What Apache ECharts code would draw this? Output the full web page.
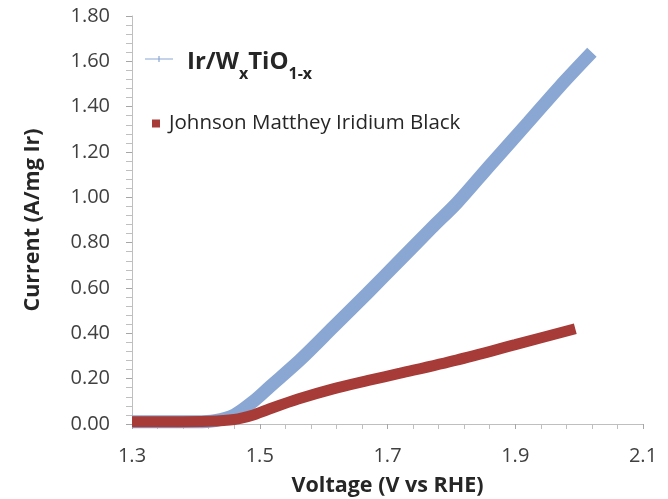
<!DOCTYPE html>
<html>
<head>
<meta charset="utf-8">
<script src="https://cdn.jsdelivr.net/npm/echarts@6/dist/echarts.min.js"></script>
<style>html,body{margin:0;padding:0;background:#fff}#c{width:668px;height:499px}</style>
</head>
<body>
<div id="c"></div>
<script>
// Ir/WxTiO1-x series (voltage V vs RHE, current A/mg Ir)
const blueV = [1.30, 1.35, 1.40, 1.43, 1.46, 1.49, 1.516, 1.563, 1.615, 1.668, 1.720, 1.771, 1.809, 1.86, 1.92, 1.97, 2.02];
const blueI = [0.01, 0.01, 0.01, 0.015, 0.04, 0.10, 0.165, 0.282, 0.427, 0.575, 0.724, 0.870, 0.976, 1.14, 1.33, 1.49, 1.64];
// Johnson Matthey Iridium Black series
const redV = [1.30, 1.36, 1.42, 1.46, 1.49, 1.511, 1.56, 1.615, 1.67, 1.720, 1.808, 1.90, 1.994];
const redI = [0.01, 0.01, 0.012, 0.02, 0.04, 0.062, 0.11, 0.155, 0.192, 0.224, 0.282, 0.35, 0.42];
const seriesNames = ['Ir/WxTiO1-x', 'Johnson Matthey Iridium Black'];
const xTicks = [1.3, 2.1, 0.2];   // min, max, interval
const yTicks = [0, 1.8, 0.2];

const FONT = 'Open Sans';
const BLUE = '#8AA7D3', RED = '#A63B37';
const chart = echarts.init(document.getElementById('c'), null, {renderer: 'canvas'});
const zip = (a, b) => a.map((v, i) => [v, b[i]]);
chart.setOption({
  animation: false,
  textStyle: {fontFamily: FONT},
  grid: {left: 132, right: 25, top: 16, bottom: 75, outerBoundsMode: 'none', containLabel: false},
  legend: [
    {
      left: 140, top: 45, itemWidth: 28, itemHeight: 10, itemGap: 0,
      data: [{name: seriesNames[0], icon: 'path://M0,4.5H28V5.5H0Z M13.4,2H14.6V8H13.4Z'}],
      formatter: () => '{b|Ir/W}{s|x}{b|TiO}{s|1-x}',
      textStyle: {
        padding: [0, 0, 0, 9],
        rich: {
          b: {fontFamily: FONT, fontSize: 24, fontWeight: 'bold', color: '#262626', verticalAlign: 'bottom', lineHeight: 30},
          s: {fontFamily: FONT, fontSize: 16, fontWeight: 'bold', color: '#262626', verticalAlign: 'bottom', lineHeight: 18, padding: [0, 0, -8, 0]}
        }
      }
    },
    {
      left: 147, top: 108, itemWidth: 8, itemHeight: 8,
      data: [{name: seriesNames[1], icon: 'rect'}],
      textStyle: {fontFamily: FONT, fontSize: 20.5, color: '#262626', padding: [0, 0, 0, 4]}
    }
  ],
  xAxis: {
    type: 'value', min: xTicks[0], max: xTicks[1], interval: xTicks[2],
    name: 'Voltage (V vs RHE)', nameLocation: 'middle', nameGap: 51,
    nameTextStyle: {fontFamily: FONT, fontSize: 21.5, fontWeight: 'bold', color: '#262626'},
    axisLine: {onZero: false, lineStyle: {color: '#BFBFBF', width: 1}},
    axisTick: {show: true, length: 5, lineStyle: {color: '#A6A6A6'}},
    minorTick: {show: true, splitNumber: 5, length: 5, lineStyle: {color: '#BFBFBF'}},
    splitLine: {show: false},
    axisLabel: {fontFamily: FONT, fontSize: 20, color: '#404040', margin: 22, formatter: v => v.toFixed(1)}
  },
  yAxis: {
    type: 'value', min: yTicks[0], max: yTicks[1], interval: yTicks[2],
    name: 'Current (A/mg Ir)', nameLocation: 'middle', nameGap: 88,
    nameTextStyle: {fontFamily: FONT, fontSize: 21.5, fontWeight: 'bold', color: '#262626'},
    axisLine: {show: true, lineStyle: {color: '#BFBFBF', width: 1}},
    axisTick: {show: true, length: 6, lineStyle: {color: '#A6A6A6'}},
    minorTick: {show: true, splitNumber: 5, length: 6, lineStyle: {color: '#BFBFBF'}},
    splitLine: {show: false},
    axisLabel: {fontFamily: FONT, fontSize: 20, color: '#404040', margin: 22, formatter: v => v.toFixed(2)}
  },
  series: [
    {
      name: seriesNames[0], type: 'line', data: zip(blueV, blueI), smooth: 0.3,
      showSymbol: false, symbol: 'none', color: BLUE,
      lineStyle: {color: BLUE, width: 13}
    },
    {
      name: seriesNames[1], type: 'line', data: zip(redV, redI), smooth: 0.3,
      showSymbol: false, symbol: 'none', color: RED,
      lineStyle: {color: RED, width: 11}
    }
  ]
});
</script>
</body>
</html>
